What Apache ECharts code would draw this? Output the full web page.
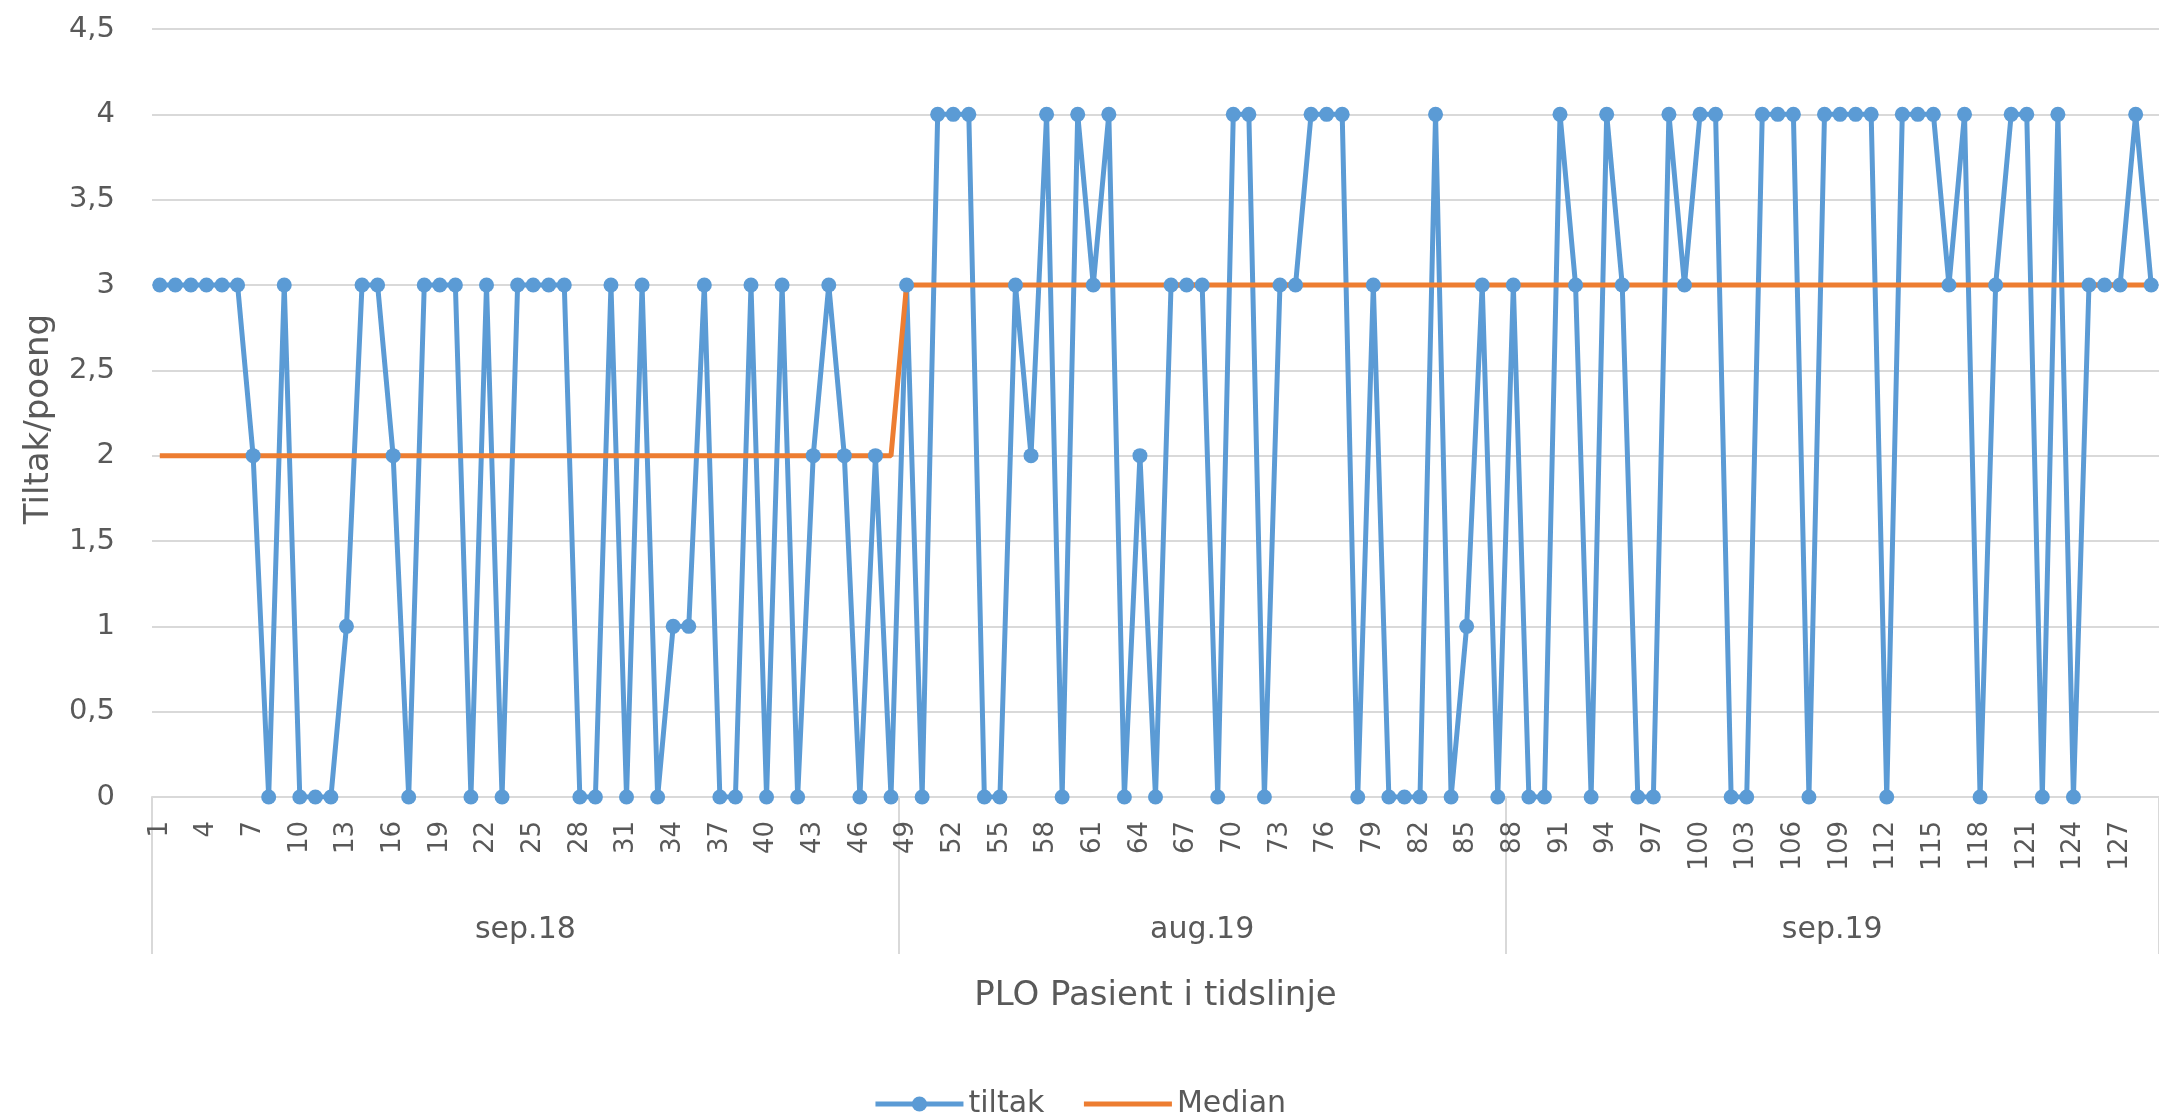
<!DOCTYPE html>
<html>
<head>
<meta charset="utf-8">
<script src="https://cdn.jsdelivr.net/npm/echarts@6/dist/echarts.min.js"></script>
<style>
html,body{margin:0;padding:0;background:#fff;}
#chart{width:2159px;height:1118px;}
</style>
</head>
<body>
<div id="chart"></div>
<script>
const categories = ['1','2','3','4','5','6','7','8','9','10','11','12','13','14','15','16','17','18','19','20',
'21','22','23','24','25','26','27','28','29','30','31','32','33','34','35','36','37','38','39','40',
'41','42','43','44','45','46','47','48','49','50','51','52','53','54','55','56','57','58','59','60',
'61','62','63','64','65','66','67','68','69','70','71','72','73','74','75','76','77','78','79','80',
'81','82','83','84','85','86','87','88','89','90','91','92','93','94','95','96','97','98','99','100',
'101','102','103','104','105','106','107','108','109','110','111','112','113','114','115','116','117','118','119','120',
'121','122','123','124','125','126','127','128','129'];

const tiltak = [3,3,3,3,3,3,2,0,3,0,
0,0,1,3,3,2,0,3,3,3,
0,3,0,3,3,3,3,0,0,3,
0,3,0,1,1,3,0,0,3,0,
3,0,2,3,2,0,2,0,3,0,
4,4,4,0,0,3,2,4,0,4,
3,4,0,2,0,3,3,3,0,4,
4,0,3,3,4,4,4,0,3,0,
0,0,4,0,1,3,0,3,0,0,
4,3,0,4,3,0,0,4,3,4,
4,0,0,4,4,4,0,4,4,4,
4,0,4,4,4,3,4,0,3,4,
4,0,4,0,3,3,3,4,3];

const median = [2,2,2,2,2,2,2,2,2,2,
2,2,2,2,2,2,2,2,2,2,
2,2,2,2,2,2,2,2,2,2,
2,2,2,2,2,2,2,2,2,2,
2,2,2,2,2,2,2,2,3,3,
3,3,3,3,3,3,3,3,3,3,
3,3,3,3,3,3,3,3,3,3,
3,3,3,3,3,3,3,3,3,3,
3,3,3,3,3,3,3,3,3,3,
3,3,3,3,3,3,3,3,3,3,
3,3,3,3,3,3,3,3,3,3,
3,3,3,3,3,3,3,3,3,3,
3,3,3,3,3,3,3,3,3];

const groupNames = ['sep.18','aug.19','sep.19'];
const groupSizes = [48, 39, 42];

const yTickLabels = ['0','0,5','1','1,5','2','2,5','3','3,5','4','4,5'];

// group boundaries/centers derived from sizes
const bounds = [0];
groupSizes.forEach(s => bounds.push(bounds[bounds.length-1] + s));
const centers = groupSizes.map((s,i) => bounds[i] + s/2);

const FONT = 'DejaVu Sans';
const TXT = '#595959';
const GRID = '#D9D9D9';
const BLUE = '#5B9BD5';
const ORANGE = '#ED7D31';

const chart = echarts.init(document.getElementById('chart'), null, {renderer:'canvas'});
chart.setOption({
  animation: false,
  backgroundColor: '#fff',
  textStyle: {fontFamily: FONT, color: TXT},
  grid: {left: 152, top: 29, width: 2011, height: 768, containLabel: false},
  legend: {
    data: [
      {name: 'tiltak'},
      {name: 'Median', itemStyle: {opacity: 0}}
    ],
    left: 'center', top: 1084,
    itemWidth: 88, itemHeight: 19, itemGap: 37,
    lineStyle: {width: 5},
    textStyle: {fontFamily: FONT, fontSize: 30, color: TXT}
  },
  xAxis: [{
    type: 'category',
    data: categories,
    boundaryGap: true,
    axisLine: {show: true, lineStyle: {color: GRID, width: 2}},
    axisTick: {show: false},
    axisLabel: {rotate: 90, interval: 2, fontSize: 26, color: TXT, fontFamily: FONT, margin: 24},
    splitLine: {show: false},
    name: 'PLO Pasient i tidslinje',
    nameLocation: 'middle',
    nameGap: 182,
    nameTextStyle: {fontSize: 34, color: TXT, fontFamily: FONT}
  }, {
    type: 'value',
    position: 'bottom',
    min: 0, max: bounds[bounds.length-1],
    axisLine: {show: false},
    splitLine: {show: false},
    axisTick: {show: true, customValues: bounds, length: 157, lineStyle: {color: GRID, width: 2}},
    axisLabel: {
      customValues: centers,
      margin: 118, fontSize: 30, color: TXT, fontFamily: FONT,
      formatter: function (v) {
        const i = centers.indexOf(v);
        return i >= 0 ? groupNames[i] : '';
      }
    }
  }],
  yAxis: {
    type: 'value',
    min: 0, max: 4.5, interval: 0.5,
    axisLine: {show: false},
    axisTick: {show: false},
    splitLine: {show: true, lineStyle: {color: GRID, width: 2}},
    axisLabel: {
      fontSize: 29, color: TXT, fontFamily: FONT, margin: 37,
      formatter: function (v) { return yTickLabels[Math.round(v/0.5)]; }
    },
    name: 'Tiltak/poeng',
    nameLocation: 'middle',
    nameRotate: 90,
    nameGap: 96,
    nameTextStyle: {fontSize: 34, color: TXT, fontFamily: FONT, padding: [0, 0, 0, -12]}
  },
  series: [{
    name: 'tiltak',
    type: 'line',
    xAxisIndex: 0,
    data: tiltak,
    symbol: 'circle',
    symbolSize: 15,
    showSymbol: true,
    showAllSymbol: true,
    itemStyle: {color: BLUE},
    lineStyle: {color: BLUE, width: 5}
  }, {
    name: 'Median',
    type: 'line',
    xAxisIndex: 0,
    data: median,
    symbol: 'none',
    itemStyle: {color: ORANGE},
    lineStyle: {color: ORANGE, width: 5}
  }]
});
</script>
</body>
</html>
